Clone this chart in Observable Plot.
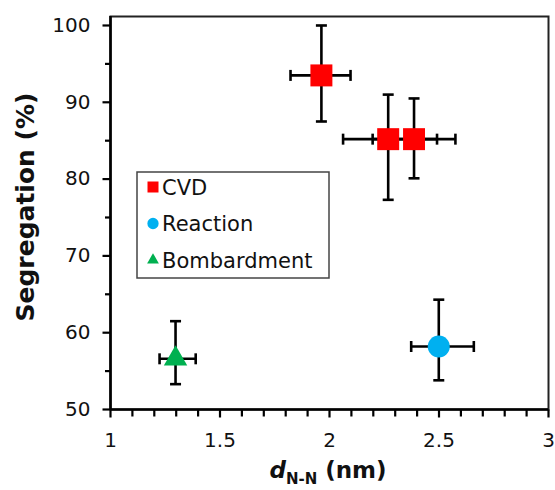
<!DOCTYPE html>
<html>
<head>
<meta charset="utf-8">
<script src="https://cdn.jsdelivr.net/npm/d3@7"></script>
<script src="https://cdn.jsdelivr.net/npm/@observablehq/plot@0.6"></script>
<style>
  html, body { margin: 0; padding: 0; background: #fff; }
  #chart { position: relative; width: 555px; height: 490px; }
</style>
</head>
<body>
<div id="chart"></div>
<script>
// ---- data ----
const categories = ["CVD", "CVD", "CVD", "Reaction", "Bombardment"];
const xValues = [1.963, 2.268, 2.386, 2.499, 1.297];
const yValues = [93.5, 85.2, 85.2, 58.2, 56.6];
const xLow  = [1.822, 2.062, 2.197, 2.373, 1.224];
const xHigh = [2.096, 2.491, 2.575, 2.659, 1.389];
const yLow  = [87.5, 77.3, 80.1, 53.8, 53.3];
const yHigh = [100.0, 91.0, 90.5, 64.3, 61.5];

const seriesNames = ["CVD", "Reaction", "Bombardment"];
const seriesColors = ["#FF0000", "#00B0F0", "#00B050"];
const seriesSymbols = ["square", "circle", "triangle"];

const xTicks = [1, 1.5, 2, 2.5, 3];
const xTickLabels = ["1", "1.5", "2", "2.5", "3"];
const xMinorTicks = [1.1, 1.2, 1.3, 1.4, 1.6, 1.7, 1.8, 1.9, 2.1, 2.2, 2.3, 2.4, 2.6, 2.7, 2.8, 2.9];
const yTicks = [50, 60, 70, 80, 90, 100];
const yTickLabels = ["50", "60", "70", "80", "90", "100"];
const yMinorTicks = [55, 65, 75, 85, 95];
const xDomain = [1, 3];
const yDomain = [50, 101.17];

const rows = categories.map((c, i) => ({
  cat: c, x: xValues[i], y: yValues[i],
  xLow: xLow[i], xHigh: xHigh[i], yLow: yLow[i], yHigh: yHigh[i]
}));

// custom line symbols
const capH = { draw(c) { c.moveTo(-5.5, 0); c.lineTo(5.5, 0); } };
const capV = { draw(c) { c.moveTo(0, -5.5); c.lineTo(0, 5.5); } };
const tickDownMajor = { draw(c) { c.moveTo(0, 0); c.lineTo(0, 8); } };
const tickDownMinor = { draw(c) { c.moveTo(0, 0); c.lineTo(0, 7); } };
const tickLeftMajor = { draw(c) { c.moveTo(0, 0); c.lineTo(-8, 0); } };
const tickLeftMinor = { draw(c) { c.moveTo(0, 0); c.lineTo(-5.5, 0); } };

const markR = { CVD: 12.4, Reaction: 11, Bombardment: 8.7 };

const seriesMarks = seriesNames.map((name, k) =>
  Plot.dot(rows.filter(d => d.cat === name), {
    x: "x", y: "y", symbol: () => seriesSymbols[k],
    fill: seriesColors[k], stroke: "none", r: markR[name]
  })
);

const plot = Plot.plot({
  width: 555,
  height: 490,
  marginLeft: 110,
  marginRight: 7,
  marginTop: 16,
  marginBottom: 81,
  style: { fontFamily: "DejaVu Sans", fontSize: "20px", color: "#000", background: "#fff", overflow: "visible" },
  x: { domain: xDomain, axis: null },
  y: { domain: yDomain, axis: null },
  symbol: { type: "identity" },
  marks: [
    // error bars
    Plot.ruleY(rows, { y: "y", x1: "xLow", x2: "xHigh", stroke: "#000", strokeWidth: 2.6 }),
    Plot.ruleX(rows, { x: "x", y1: "yLow", y2: "yHigh", stroke: "#000", strokeWidth: 2.6 }),
    Plot.dot(rows, { x: "xLow", y: "y", symbol: capV, stroke: "#000", fill: "none", strokeWidth: 2.6 }),
    Plot.dot(rows, { x: "xHigh", y: "y", symbol: capV, stroke: "#000", fill: "none", strokeWidth: 2.6 }),
    Plot.dot(rows, { x: "x", y: "yLow", symbol: capH, stroke: "#000", fill: "none", strokeWidth: 2.6 }),
    Plot.dot(rows, { x: "x", y: "yHigh", symbol: capH, stroke: "#000", fill: "none", strokeWidth: 2.6 }),
    ...seriesMarks,
    // frame
    Plot.frame({ stroke: "#222", strokeWidth: 2 }),
    Plot.ruleX([xDomain[0]], { stroke: "#000", strokeWidth: 2.6 }),
    Plot.ruleY([yDomain[0]], { stroke: "#000", strokeWidth: 2.6 }),
    // ticks
    Plot.dot(xTicks, { x: d => d, y: yDomain[0], symbol: tickDownMajor, stroke: "#000", fill: "none", strokeWidth: 2.2 }),
    Plot.dot(xMinorTicks, { x: d => d, y: yDomain[0], symbol: tickDownMinor, stroke: "#000", fill: "none", strokeWidth: 2.2 }),
    Plot.dot(yTicks, { x: xDomain[0], y: d => d, symbol: tickLeftMajor, stroke: "#000", fill: "none", strokeWidth: 2.2 }),
    Plot.dot(yMinorTicks, { x: xDomain[0], y: d => d, symbol: tickLeftMinor, stroke: "#000", fill: "none", strokeWidth: 2.2 }),
    // tick labels
    Plot.text(xTicks, { x: d => d, y: yDomain[0], text: (d, i) => xTickLabels[i], dy: 31, fill: "#111", fontSize: 20 }),
    Plot.text(yTicks, { x: xDomain[0], y: d => d, text: (d, i) => yTickLabels[i], dx: -20, textAnchor: "end", fill: "#111", fontSize: 20 })
  ]
});

document.getElementById("chart").appendChild(plot);

const svg = d3.select(plot);

// y-axis title
svg.append("text")
  .attr("transform", "translate(34,207) rotate(-90)")
  .attr("text-anchor", "middle")
  .attr("font-family", "DejaVu Sans")
  .attr("font-weight", "bold")
  .attr("font-size", 25)
  .attr("fill", "#111")
  .text("Segregation (%)");

// x-axis title with subscript
const xt = svg.append("text")
  .attr("x", 328)
  .attr("y", 478)
  .attr("text-anchor", "middle")
  .attr("font-family", "DejaVu Sans")
  .attr("font-weight", "bold")
  .attr("font-size", 23)
  .attr("fill", "#111");
xt.append("tspan").attr("font-style", "italic").text("d");
xt.append("tspan").attr("font-size", 15).attr("dy", 6).text("N-N");
xt.append("tspan").attr("dy", -6).text(" (nm)");

// legend
const lg = svg.append("g").attr("transform", "translate(137,172)");
lg.append("rect").attr("width", 192).attr("height", 106)
  .attr("fill", "#fff").attr("stroke", "#444").attr("stroke-width", 1.5);
seriesNames.forEach((name, k) => {
  const cy = 15 + k * 36.5;
  const sym = d3.symbol().type(
    seriesSymbols[k] === "square" ? d3.symbolSquare :
    seriesSymbols[k] === "circle" ? d3.symbolCircle : d3.symbolTriangle
  ).size(seriesSymbols[k] === "triangle" ? 60 : seriesSymbols[k] === "circle" ? 100 : 121);
  lg.append("path").attr("d", sym()).attr("transform", `translate(16,${cy})`).attr("fill", seriesColors[k]);
  lg.append("text").attr("x", 25).attr("y", cy).attr("dy", "0.36em")
    .attr("text-anchor", "start")
    .attr("font-family", "DejaVu Sans").attr("font-size", 21).attr("fill", "#111")
    .text(name);
});
</script>
</body>
</html>
